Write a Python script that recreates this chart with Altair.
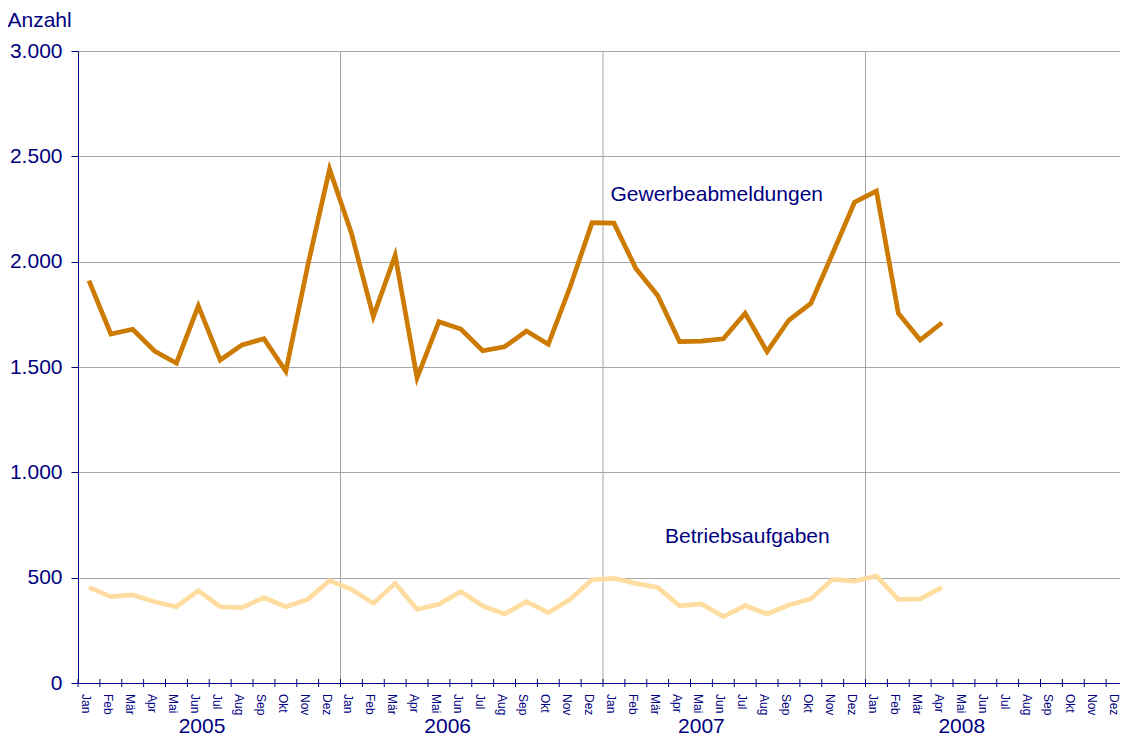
import altair as alt
import pandas as pd

# ---- data -------------------------------------------------------------
months = ["Jan", "Feb", "Mär", "Apr", "Mai", "Jun", "Jul", "Aug", "Sep", "Okt", "Nov", "Dez"]
years = ["2005", "2006", "2007", "2008"]
series_names = ["Gewerbeabmeldungen", "Betriebsaufgaben"]
series_colors = ["#CC7A00", "#FFDCA0"]

gewerbe = [1910, 1657, 1679, 1576, 1518, 1790, 1533, 1605, 1634, 1480, 1980, 2439,
           2135, 1739, 2030, 1448, 1715, 1680, 1577, 1596, 1671, 1608, 1881, 2185,
           2183, 1968, 1839, 1620, 1623, 1634, 1755, 1573, 1723, 1802, 2040, 2282,
           2335, 1755, 1628, 1710]
betrieb = [454, 410, 418, 386, 362, 438, 362, 358, 405, 362, 397, 486,
           445, 378, 473, 350, 374, 434, 366, 328, 386, 334, 397, 490,
           497, 473, 454, 366, 375, 315, 367, 328, 370, 399, 492, 484,
           508, 397, 399, 454]

y_ticks = [0, 500, 1000, 1500, 2000, 2500, 3000]
year_label_month = [5.67, 16.9, 28.5, 40.4]          # label anchors in month units
series_label_month = [29.2, 30.6]
series_label_value = [2317, 693]

# ---- layout / style ---------------------------------------------------
W, H = 1050, 632
NAVY = "#000080"
GRID = "#A6A6A6"
FONT = "Liberation Sans"
n_months = len(months) * len(years)

# ---- tables -----------------------------------------------------------
rows = []
for name, vals in zip(series_names, [gewerbe, betrieb]):
    for i, v in enumerate(vals):
        rows.append({"pos": i + 0.5, "value": v, "series": name})
df_lines = pd.DataFrame(rows)

df_month_labels = pd.DataFrame({
    "pos": [i + 0.5 for i in range(n_months)],
    "label": [months[i % 12] for i in range(n_months)],
})
df_ticks = pd.DataFrame({"pos": list(range(n_months + 1))})
df_year_grid = pd.DataFrame({"pos": [12 * k for k in range(1, len(years))]})
df_year_labels = pd.DataFrame({"pos": year_label_month, "label": years})
df_series_labels = pd.DataFrame({
    "pos": series_label_month, "value": series_label_value, "label": series_names
})

xscale = alt.Scale(domain=[0, n_months], nice=False, zero=False)
yscale = alt.Scale(domain=[0, 3000], nice=False)

xaxis = alt.Axis(title=None, labels=False, ticks=False, grid=False,
                 domain=True, domainColor=NAVY, domainWidth=1)
yaxis = alt.Axis(
    title="Anzahl", titleAngle=0, titleAlign="left", titleBaseline="middle",
    titleX=-71, titleY=-31, titleColor=NAVY, titleFont=FONT, titleFontSize=21,
    titleFontWeight="normal",
    values=y_ticks, labelExpr="replace(format(datum.value, ','), ',', '.')",
    labelColor=NAVY, labelFont=FONT, labelFontSize=21, labelPadding=9,
    tickColor=NAVY, tickSize=7, domainColor=NAVY, domainWidth=1,
    grid=True, gridColor=GRID, gridWidth=1,
)

X = lambda: alt.X("pos:Q", scale=xscale, axis=xaxis)
Y = lambda f="value": alt.Y(f"{f}:Q", scale=yscale, axis=yaxis)

year_grid = alt.Chart(df_year_grid).mark_rule(color=GRID, strokeWidth=1).encode(
    x=X(), y=alt.value(0), y2=alt.value(H)
)

lines = alt.Chart(df_lines).mark_line(strokeWidth=4.7, strokeJoin="miter").encode(
    x=X(), y=Y(),
    color=alt.Color("series:N", scale=alt.Scale(domain=series_names, range=series_colors),
                    legend=None),
    detail="series:N",
)

ticks = alt.Chart(df_ticks).mark_rule(color=NAVY, strokeWidth=1).encode(
    x=X(), y=alt.value(H - 4), y2=alt.value(H + 4)
)

month_text = alt.Chart(df_month_labels).mark_text(
    angle=90, align="left", baseline="middle", font=FONT, fontSize=12, color=NAVY, dy=3
).encode(x=X(), y=alt.value(H + 11), text="label:N")

year_text = alt.Chart(df_year_labels).mark_text(
    align="center", baseline="middle", font=FONT, fontSize=21, color=NAVY
).encode(x=X(), y=alt.value(H + 44), text="label:N")

series_text = alt.Chart(df_series_labels).mark_text(
    align="center", baseline="middle", font=FONT, fontSize=21, color=NAVY
).encode(x=X(), y=Y(), text="label:N")

chart = alt.layer(
    year_grid, lines, ticks, month_text, year_text, series_text
).properties(
    width=W, height=H,
    autosize=alt.AutoSizeParams(type="none"),
    padding={"left": 70, "top": 43, "right": -8, "bottom": 54},
    background="white",
).configure_view(stroke=None)

chart.save("out.html", embed_options={"renderer": "svg", "actions": False})
